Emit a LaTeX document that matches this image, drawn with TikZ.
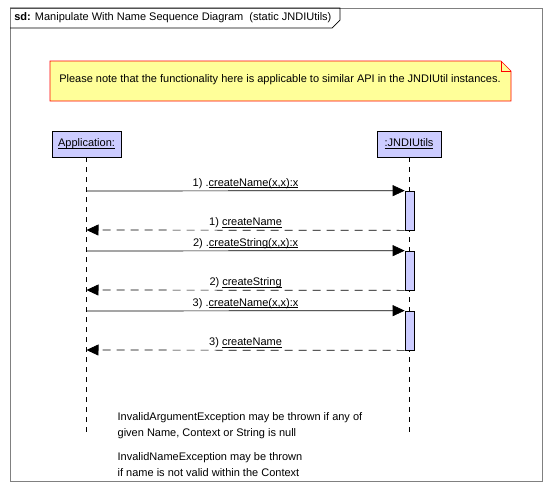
\documentclass[tikz,border=0pt]{standalone}
\usepackage{xcolor}
\usepackage{fontspec}
\setmainfont{Liberation Sans}
\usepackage{tikz}
\usetikzlibrary{arrows.meta}
\definecolor{lifeblue}{HTML}{CCCCFF}
\definecolor{noteyellow}{HTML}{FFFF99}
\newcommand{\udl}[1]{\underline{\smash{#1}}\vphantom{#1}}
\tikzstyle{object} = [rectangle, draw=black, fill=lifeblue, minimum height=26pt, inner sep=2pt]
\tikzstyle{activation} = [rectangle, draw=black, fill=lifeblue, minimum width=9pt, minimum height=39pt, inner sep=0pt]
\tikzstyle{lifeline} = [dash pattern=on 5pt off 5pt]
\tikzstyle{call} = [-{Triangle[length=12pt,width=11pt]}]
\tikzstyle{return} = [dash pattern=on 8pt off 6pt, -{Triangle[length=12pt,width=11pt]}]
\tikzstyle{msg} = [above, inner sep=2pt]

\begin{document}
\begin{tikzpicture}[x=1pt,y=-1pt,every node/.style={font=\fontsize{11}{15.5}\selectfont},line width=0.7pt]
	\useasboundingbox (0,0) rectangle (552,491);

	% frame and title
	\draw [gray, line width=1pt] (10,8) rectangle (542,481);
	\draw (10,8) -- (340,8) -- (340,20) -- (332,28) -- (10,28);
	\node (title) [anchor=west, inner sep=2pt] at (12,18) {\textbf{sd:} Manipulate With Name Sequence Diagram\ \ (static JNDIUtils)};

	% note
	\draw [red, fill=noteyellow] (50,61) -- (501,61) -- (511,71) -- (511,101) -- (50,101) -- cycle;
	\draw [red, line width=0.5pt] (501,61) -- (501,71) -- (511,71);
	\node (note) at (280,80) {Please note that the functionality here is applicable to similar API in the JNDIUtil instances.};

	% lifelines
	\node (app) [object, minimum width=69pt] at (86.5,144) {\udl{Application:}};
	\node (jndi) [object, minimum width=64pt] at (409,144) {\udl{:JNDIUtils}};
	\coordinate (append) at (86.5,437);
	\coordinate (jndiend) at (409,437);
	\draw [lifeline] (app) -- (append);
	\draw [lifeline] (jndi) -- (jndiend);

	% activations
	\node (act1) [activation] at (409.5,210.5) {};
	\node (act2) [activation] at (409.5,270.5) {};
	\node (act3) [activation] at (409.5,330.5) {};

	\coordinate (call1) at (86.5,191);
	\coordinate (back1) at (86.5,230);
	\coordinate (call2) at (86.5,251);
	\coordinate (back2) at (86.5,290);
	\coordinate (call3) at (86.5,311);
	\coordinate (back3) at (86.5,350);

	% messages
	\draw [call] (call1) -- node [msg] {1) .\udl{createName(x,x):x}} (act1.north west);
	\draw [return] (act1.south west) -- node [msg] {1) \udl{createName}} (back1);
	\draw [call] (call2) -- node [msg] {2) .\udl{createString(x,x):x}} (act2.north west);
	\draw [return] (act2.south west) -- node [msg] {2) \udl{createString}} (back2);
	\draw [call] (call3) -- node [msg] {3) .\udl{createName(x,x):x}} (act3.north west);
	\draw [return] (act3.south west) -- node [msg] {3) \udl{createName}} (back3);

	% exception notes
	\node (argex) [anchor=north west, align=left] at (114,409) {InvalidArgumentException may be thrown if any of\\given Name, Context or String is null};
	\node (nameex) [anchor=north west, align=left] at (114,449) {InvalidNameException may be thrown\\if name is not valid within the Context};

\end{tikzpicture}
\end{document}
